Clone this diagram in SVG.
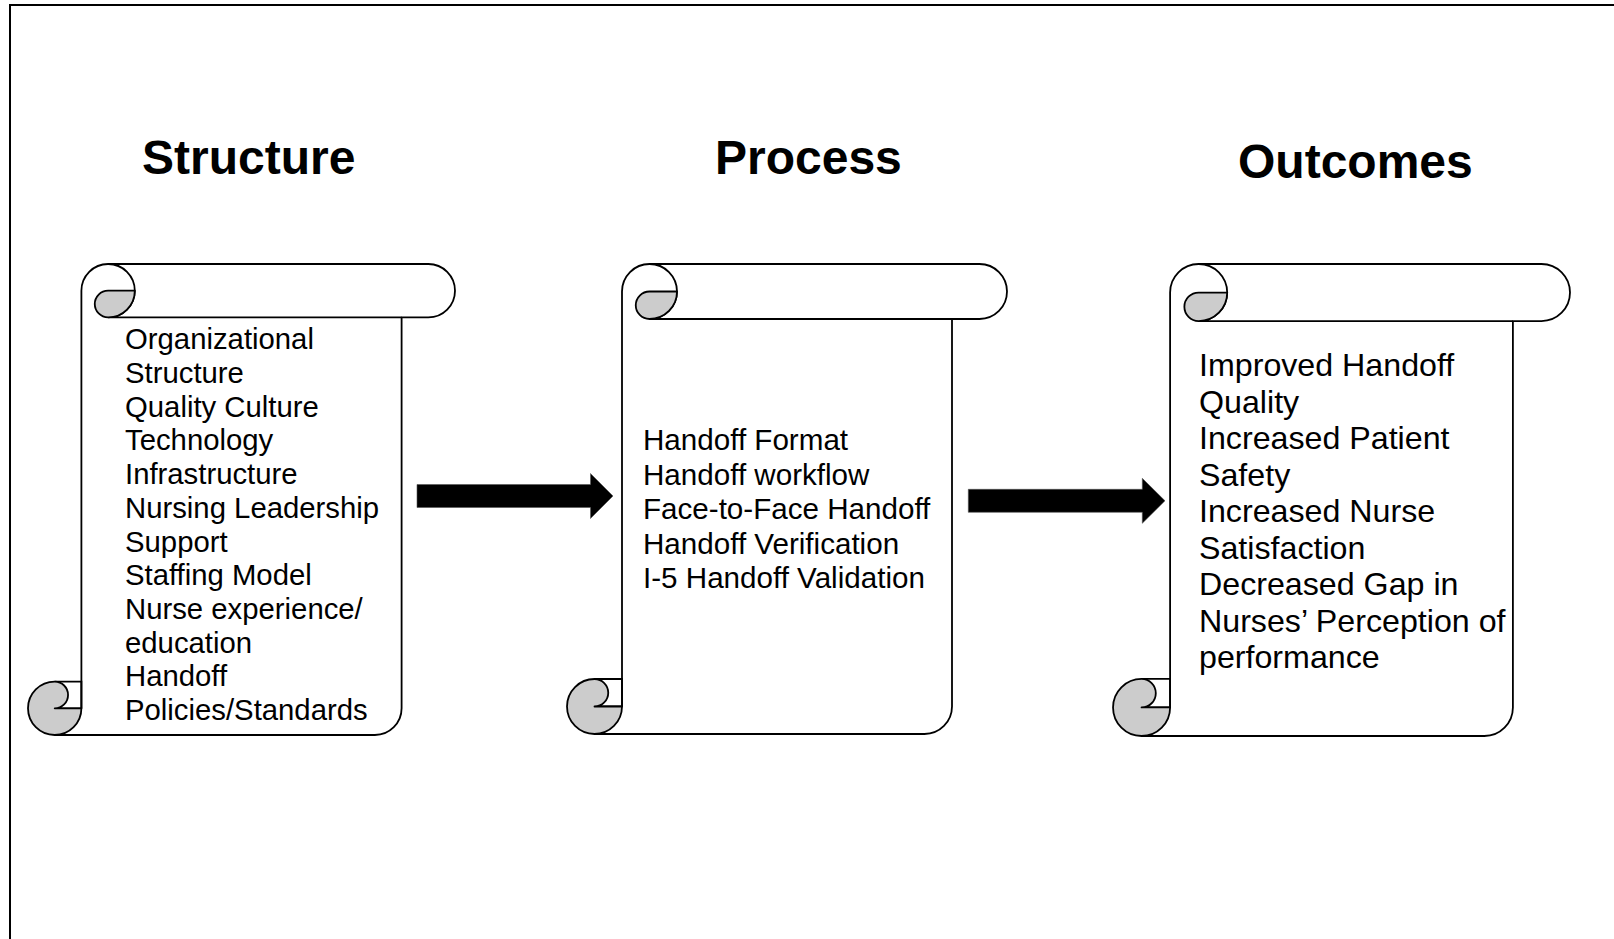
<svg xmlns="http://www.w3.org/2000/svg" width="1614" height="939" viewBox="0 0 1614 939">
<style>
.frame{stroke:#000;stroke-width:2;fill:none}
.scroll{fill:#fff;stroke:#000;stroke-width:1.8;stroke-linejoin:round}
.line{fill:none;stroke:#000;stroke-width:1.8}
.curl{fill:#cccccc;stroke:#000;stroke-width:1.8;stroke-linejoin:round}
.title{font-family:"Liberation Sans",Arial,sans-serif;font-weight:bold;font-size:48px;fill:#000}
.body{font-family:"Liberation Sans",Arial,sans-serif;font-size:29.3px;fill:#000}
.body2{font-family:"Liberation Sans",Arial,sans-serif;font-size:29.6px;fill:#000}
.body3{font-family:"Liberation Sans",Arial,sans-serif;font-size:32.2px;fill:#000}
.arrow{fill:#000;stroke:#555;stroke-width:0.6}
</style>
<rect width="1614" height="939" fill="#fff"/>
<path class="frame" d="M10,939 L10,5 L1614,5"/>

<g id="structure">
<text class="title" x="142" y="174">Structure</text>
<path class="scroll" d="M54.7,735 L374.9,735 A26.7,26.7 0 0 0 401.6,708.3 L401.6,317.4 L428.3,317.4 A26.7,26.7 0 0 0 428.3,264 L108.1,264 A26.7,26.7 0 0 0 81.4,290.7 L81.4,708.3 L54.7,708.3"/>
<path class="line" d="M108.1,317.4 L401.6,317.4 M108.1,264 A26.7,26.7 0 0 1 108.1,317.4 M54.7,681.6 L81.4,681.6 L81.4,708.3"/>
<path class="curl" d="M108.1,290.7 L134.8,290.7 A26.7,26.7 0 0 1 108.1,317.4 A13.35,13.35 0 0 1 108.1,290.7 Z"/>
<path class="curl" d="M54.7,708.3 L81.4,708.3 A26.7,26.7 0 0 1 54.7,735 A26.7,26.7 0 0 1 54.7,681.6 A13.35,13.35 0 0 1 54.7,708.3 Z"/>
<text class="body" x="125">
<tspan x="125" y="349.3">Organizational</tspan>
<tspan x="125" y="383">Structure</tspan>
<tspan x="125" y="416.7">Quality Culture</tspan>
<tspan x="125" y="450.4">Technology</tspan>
<tspan x="125" y="484.1">Infrastructure</tspan>
<tspan x="125" y="517.8">Nursing Leadership</tspan>
<tspan x="125" y="551.5">Support</tspan>
<tspan x="125" y="585.2">Staffing Model</tspan>
<tspan x="125" y="618.9">Nurse experience/</tspan>
<tspan x="125" y="652.6">education</tspan>
<tspan x="125" y="686.3">Handoff</tspan>
<tspan x="125" y="720">Policies/Standards</tspan>
</text>
</g>

<g id="process">
<text class="title" x="715" y="174">Process</text>
<path class="scroll" d="M594.5,734 L924.5,734 A27.5,27.5 0 0 0 952,706.5 L952,319 L979.5,319 A27.5,27.5 0 0 0 979.5,264 L649.5,264 A27.5,27.5 0 0 0 622,291.5 L622,706.5 L594.5,706.5"/>
<path class="line" d="M649.5,319 L952,319 M649.5,264 A27.5,27.5 0 0 1 649.5,319 M594.5,679 L622,679 L622,706.5"/>
<path class="curl" d="M649.5,291.5 L677,291.5 A27.5,27.5 0 0 1 649.5,319 A13.75,13.75 0 0 1 649.5,291.5 Z"/>
<path class="curl" d="M594.5,706.5 L622,706.5 A27.5,27.5 0 0 1 594.5,734 A27.5,27.5 0 0 1 594.5,679 A13.75,13.75 0 0 1 594.5,706.5 Z"/>
<text class="body2" x="643">
<tspan x="643" y="450">Handoff Format</tspan>
<tspan x="643" y="484.6">Handoff workflow</tspan>
<tspan x="643" y="519.2">Face-to-Face Handoff</tspan>
<tspan x="643" y="553.8">Handoff Verification</tspan>
<tspan x="643" y="588.4">I-5 Handoff Validation</tspan>
</text>
</g>

<g id="outcomes">
<text class="title" x="1238" y="178">Outcomes</text>
<path class="scroll" d="M1141.55,736 L1484.35,736 A28.55,28.55 0 0 0 1512.9,707.45 L1512.9,321.1 L1541.45,321.1 A28.55,28.55 0 0 0 1541.45,264 L1198.65,264 A28.55,28.55 0 0 0 1170.1,292.55 L1170.1,707.45 L1141.55,707.45"/>
<path class="line" d="M1198.65,321.1 L1512.9,321.1 M1198.65,264 A28.55,28.55 0 0 1 1198.65,321.1 M1141.55,678.9 L1170.1,678.9 L1170.1,707.45"/>
<path class="curl" d="M1198.65,292.55 L1227.2,292.55 A28.55,28.55 0 0 1 1198.65,321.1 A14.275,14.275 0 0 1 1198.65,292.55 Z"/>
<path class="curl" d="M1141.55,707.45 L1170.1,707.45 A28.55,28.55 0 0 1 1141.55,736 A28.55,28.55 0 0 1 1141.55,678.9 A14.275,14.275 0 0 1 1141.55,707.45 Z"/>
<text class="body3" x="1199">
<tspan x="1199" y="376">Improved Handoff</tspan>
<tspan x="1199" y="412.5">Quality</tspan>
<tspan x="1199" y="449">Increased Patient</tspan>
<tspan x="1199" y="485.5">Safety</tspan>
<tspan x="1199" y="522">Increased Nurse</tspan>
<tspan x="1199" y="558.5">Satisfaction</tspan>
<tspan x="1199" y="595">Decreased Gap in</tspan>
<tspan x="1199" y="631.5">Nurses’ Perception of</tspan>
<tspan x="1199" y="668">performance</tspan>
</text>
</g>

<g id="connectors">
<path class="arrow" d="M417,484.5 L590.5,484.5 L590.5,473.5 L613,496 L590.5,518.5 L590.5,507.5 L417,507.5 Z"/>
<path class="arrow" d="M968.3,489.3 L1142.3,489.3 L1142.3,478.3 L1165,500.8 L1142.3,523.3 L1142.3,512.3 L968.3,512.3 Z"/>
</g>
</svg>
